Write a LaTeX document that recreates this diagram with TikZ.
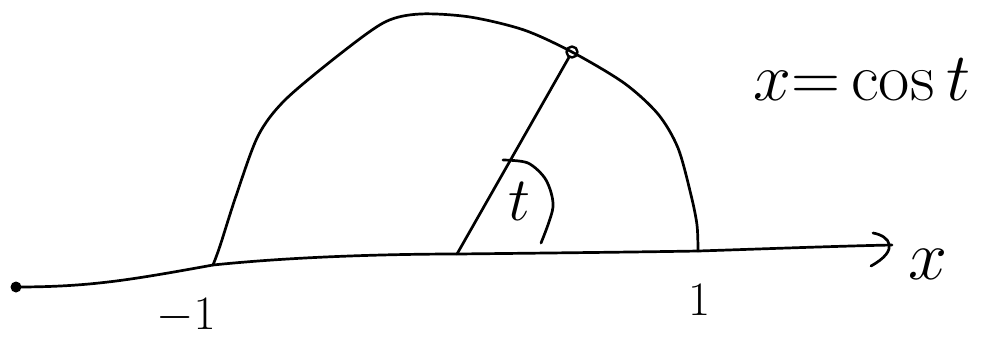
\RequirePackage{fix-cm}
\documentclass[tikz,border=0pt]{standalone}
\begin{document}
\begin{tikzpicture}[x=1pt,y=-1pt,line width=2.7pt,line cap=round,line join=round,
  lbl/.style={inner sep=0pt,font=\fontsize{#1}{#1}\selectfont},
  dotnode/.style={circle,fill=black,inner sep=0pt,minimum size=11pt},
  ringnode/.style={circle,draw=black,line width=2.4pt,inner sep=0pt,minimum size=11pt}]
\useasboundingbox (0,0) rectangle (982,349);
% named points
\node[dotnode] (L) at (16,287) {};
\coordinate (M) at (213,265);
\coordinate (O) at (457,254);
\coordinate (P) at (698,251);
\coordinate (T) at (892,245);
\node[ringnode] (Q) at (572,52) {};
% axis
\draw (L.center) .. controls (90,287) and (130,280) .. (M)
      .. controls (300,256) and (400,254) .. (O)
      .. controls (550,253) and (640,252) .. (P)
      .. controls (760,249) and (840,246) .. (T);
% arrow head
\draw (873,233) .. controls (890,236) and (900,250) .. (871,266);
% semicircle-like arc
\draw plot[smooth,tension=0.5] coordinates {(M) (220,246) (236,196) (258,136) (285,100) (340,54) (385,22) (420,14) (470,17) (524,30) (Q) (624,83) (658,114) (678,148) (691,195) (697,225) (P)};
% radius
\draw (O) -- (Q);
% angle arc
\draw plot[smooth] coordinates {(503,160) (528,163) (546,180) (553,207) (541,243)};
% labels
\node[lbl=62] (tl) at (519,201) {$t$};
\node[lbl=70] (xl) at (928,264) {$x$};
\node[lbl=68,anchor=west] (eq) at (752,80) {$x{=}\cos t$};
\node[lbl=48] (one) at (699,300) {$1$};
\node[lbl=48] (mone) at (186,316) {$-1$};
\end{tikzpicture}
\end{document}
